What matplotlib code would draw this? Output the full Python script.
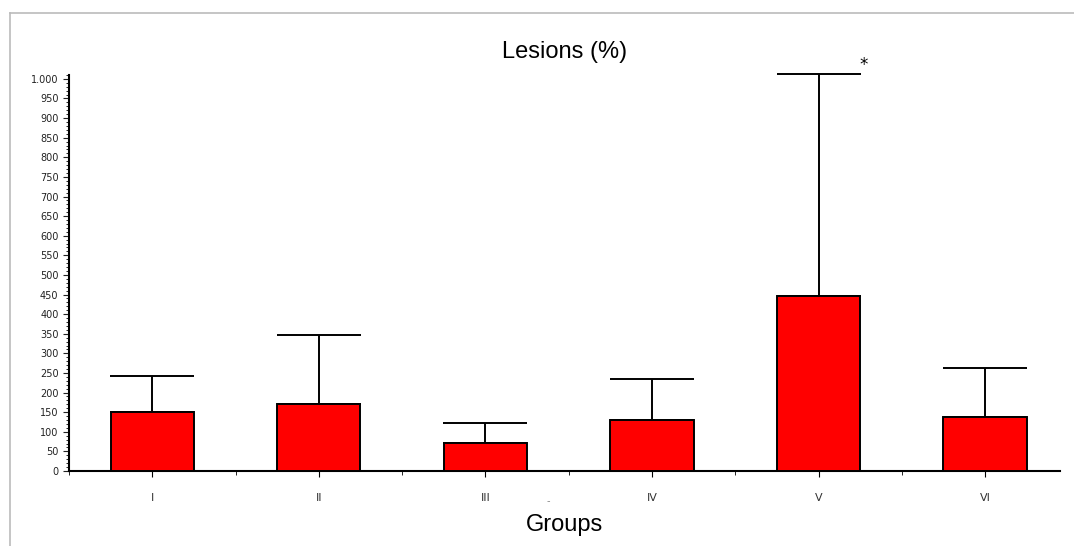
import matplotlib.pyplot as plt
from matplotlib.lines import Line2D
from matplotlib.ticker import MultipleLocator, FuncFormatter
import numpy as np

groups = ['I', 'II', 'III', 'IV', 'V', 'VI']
means = [150, 171, 71, 130, 446, 138]
upper = [242, 347, 122, 235, 1013, 263]

fig = plt.figure(figsize=(10.74, 5.46), dpi=100)
ax = fig.add_axes([0.0642, 0.1374, 0.9228, 0.7253])

x = np.arange(len(groups))
err = np.array(upper) - np.array(means)
ax.bar(x, means, width=0.5, color='#ff0000', edgecolor='black', linewidth=1.4, zorder=3)
eb = ax.errorbar(x, means, yerr=[np.zeros(len(x)), err], fmt='none', ecolor='black',
                 elinewidth=1.4, capsize=30, capthick=1.4, zorder=2)
for art in eb.lines[1] + eb.lines[2]:
    art.set_clip_on(False)

ax.set_xlim(-0.5, 5.45)
ax.set_ylim(0, 1010)
for s in ['top', 'right']:
    ax.spines[s].set_visible(False)
ax.spines['left'].set_linewidth(1.5)
ax.spines['bottom'].set_linewidth(1.5)

ax.set_xticks(x)
ax.set_xticklabels(groups, fontsize=8, color='#333333')
ax.xaxis.set_minor_locator(MultipleLocator(1, offset=0.5))
ax.tick_params(axis='x', which='major', length=4, pad=12)
ax.tick_params(axis='x', which='minor', length=3)

ax.yaxis.set_major_locator(MultipleLocator(50))
ax.yaxis.set_minor_locator(MultipleLocator(10))
ax.yaxis.set_major_formatter(FuncFormatter(lambda v, p: '1.000' if v == 1000 else '%d' % v))
ax.tick_params(axis='y', which='major', length=4, labelsize=7, colors='#222222')
ax.tick_params(axis='y', which='minor', length=2)

ax.set_title('Lesions (%)', fontsize=17, family='Liberation Sans', pad=12)
ax.set_xlabel('Groups', fontsize=17, family='Liberation Sans', labelpad=8)

# asterisk over group V
ax.text(4.27, 1036, '*', fontsize=12, ha='center', va='center', clip_on=False)
# small stray mark near III
ax.text(2.38, -78, '-', fontsize=7, color='#888888', ha='center', va='center', clip_on=False)

# outer frame lines
fig.add_artist(Line2D([10 / 1074, 1], [1 - 13 / 546, 1 - 13 / 546], color='#bbbbbb', lw=1.2))
fig.add_artist(Line2D([10 / 1074, 10 / 1074], [0, 1 - 13 / 546], color='#bbbbbb', lw=1.2))

fig.savefig('out.png', dpi=100)
